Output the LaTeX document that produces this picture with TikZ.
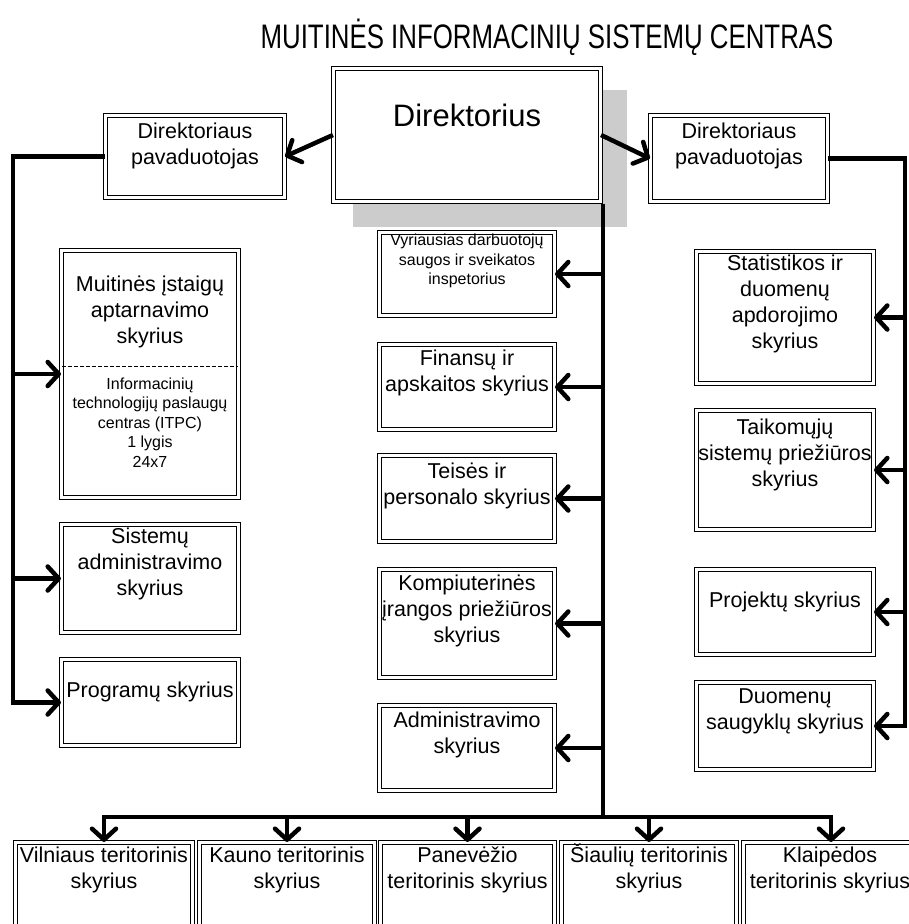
\documentclass[tikz,border=0pt]{standalone}
\usepackage{fontspec}
\setmainfont{Liberation Sans}
\usetikzlibrary{arrows.meta}
\newcommand{\topstrut}{\rule{0pt}{0.96em}}
\newcommand{\botstrut}{\rule[-0.3em]{0pt}{0.3em}}
\tikzset{
  box/.style={draw, double, line width=1.1pt, double distance=2.8pt, fill=white, inner sep=0pt},
  txt/.style={align=center, inner sep=0pt, font=\fontsize{21.5}{26}\selectfont, execute at begin node=\topstrut, execute at end node=\botstrut},
  smalltxt/.style={align=center, inner sep=0pt, font=\fontsize{16}{19.5}\selectfont, execute at begin node=\topstrut, execute at end node=\botstrut},
  conn/.style={line width=4.5pt},
  arr/.style={conn, -{Straight Barb[length=11pt,width=24pt,round]}},
  dsh/.style={dashed, line width=0.9pt, dash pattern=on 4pt off 2pt}
}
\begin{document}
\begin{tikzpicture}[x=1pt,y=-1pt]
\clip (0,0) rectangle (909,924);
\fill[white] (0,0) rectangle (909,924);

% title
\node[inner sep=0pt] (title) at (547,37) {\scalebox{0.76}[1]{\fontsize{34}{40}\selectfont MUITINĖS INFORMACINIŲ SISTEMŲ CENTRAS}};

% shadow of director
\fill[black!20] (353,90) rectangle (627,227);

% director
\node[box, minimum width=267pt, minimum height=133pt] (dir) at (467,135) {};
\node[inner sep=0pt, font=\fontsize{31}{36}\selectfont] (tdir) at (467,115) {Direktorius};

% deputies
\node[box, minimum width=179pt, minimum height=82pt] (ldep) at (195,156.5) {};
\node[txt] (tldep) at (195,146.5) {Direktoriaus\\pavaduotojas};
\node[box, minimum width=177pt, minimum height=86pt] (rdep) at (739,158.5) {};
\node[txt] (trdep) at (739,146.5) {Direktoriaus\\pavaduotojas};

% left column
\node[box, minimum width=177pt, minimum height=247pt] (muit) at (150,374) {};
\node[txt] (tmuit) at (150,312.5) {Muitinės įstaigų\\aptarnavimo\\skyrius};
\draw[dsh] (62,366) -- (238,366);
\node[smalltxt] (titpc) at (150,425) {Informacinių\\technologijų paslaugų\\centras (ITPC)\\1 lygis\\24x7};
\node[box, minimum width=177pt, minimum height=108pt] (sist) at (150,578.5) {};
\node[txt] (tsist) at (150,565) {Sistemų\\administravimo\\skyrius};
\node[box, minimum width=177pt, minimum height=86pt] (prog) at (150,702.5) {};
\node[txt] (tprog) at (150,690) {Programų skyrius};

% middle column
\node[box, minimum width=175pt, minimum height=83pt] (vyr) at (467,274) {};
\node[smalltxt] (tvyr) at (467,262) {Vyriausias darbuotojų\\saugos ir sveikatos\\inspetorius};
\node[box, minimum width=175pt, minimum height=85pt] (fin) at (467,387) {};
\node[txt] (tfin) at (467,373.5) {Finansų ir\\apskaitos skyrius};
\node[box, minimum width=175pt, minimum height=86pt] (teis) at (467,498.5) {};
\node[txt] (tteis) at (467,486.5) {Teisės ir\\personalo skyrius};
\node[box, minimum width=175pt, minimum height=108pt] (komp) at (467,623.5) {};
\node[txt] (tkomp) at (467,612) {Kompiuterinės\\įrangos priežiūros\\skyrius};
\node[box, minimum width=175pt, minimum height=85pt] (adm) at (467,748) {};
\node[txt] (tadm) at (467,735.5) {Administravimo\\skyrius};

% right column
\node[box, minimum width=177pt, minimum height=132pt] (stat) at (785,317.5) {};
\node[txt] (tstat) at (785,305) {Statistikos ir\\duomenų\\apdorojimo\\skyrius};
\node[box, minimum width=177pt, minimum height=119pt] (taik) at (785,470) {};
\node[txt] (ttaik) at (785,456) {Taikomųjų\\sistemų priežiūros\\skyrius};
\node[box, minimum width=177pt, minimum height=85pt] (proj) at (785,612) {};
\node[txt] (tproj) at (785,600) {Projektų skyrius};
\node[box, minimum width=177pt, minimum height=87pt] (duom) at (785,726) {};
\node[txt] (tduom) at (785,712.5) {Duomenų\\saugyklų skyrius};

% bottom row
\node[box, minimum width=177pt, minimum height=155pt] (vil) at (104,920) {};
\node[txt] (tvil) at (104,871) {Vilniaus teritorinis\\skyrius};
\node[box, minimum width=175pt, minimum height=155pt] (kau) at (287,920) {};
\node[txt] (tkau) at (287,871) {Kauno teritorinis\\skyrius};
\node[box, minimum width=174pt, minimum height=155pt] (pan) at (467.5,920) {};
\node[txt] (tpan) at (467.5,871) {Panevėžio\\teritorinis skyrius};
\node[box, minimum width=175pt, minimum height=155pt] (sia) at (649,920) {};
\node[txt] (tsia) at (649,871) {\smash{Š}iaulių teritorinis\\skyrius};
\node[box, minimum width=175pt, minimum height=155pt] (kla) at (831,920) {};
\node[txt] (tkla) at (830,871) {Klaipėdos\\teritorinis skyrius};

% coordinates
\coordinate (lcorner) at (13,156.5);
\coordinate (rcorner) at (905,158.5);
\coordinate (ctop) at (603,204);
\coordinate (cbus) at (603,817);

% connectors from director
\draw[arr] (dir.west) -- (ldep.east);
\draw[arr] (dir.east) -- (rdep.west);

% left branch
\draw[arr] (ldep.west) -- (lcorner) -- (lcorner |- prog.west) -- (prog.west);
\draw[arr] (lcorner |- muit.west) -- (muit.west);
\draw[arr] (lcorner |- sist.west) -- (sist.west);

% right branch
\draw[arr] (rdep.east) -- (rcorner) -- (rcorner |- duom.east) -- (duom.east);
\draw[arr] (rcorner |- stat.east) -- (stat.east);
\draw[arr] (rcorner |- taik.east) -- (taik.east);
\draw[arr] (rcorner |- proj.east) -- (proj.east);

% central trunk
\draw[conn] (ctop) -- (cbus);
\draw[arr] (ctop |- vyr.east) -- (vyr.east);
\draw[arr] (ctop |- fin.east) -- (fin.east);
\draw[arr] (ctop |- teis.east) -- (teis.east);
\draw[arr] (ctop |- komp.east) -- (komp.east);
\draw[arr] (ctop |- adm.east) -- (adm.east);

% bottom bus
\draw[arr] (cbus) -| (vil.north);
\draw[arr] (cbus) -| (kla.north);
\draw[arr] (cbus -| kau.north) -- (kau.north);
\draw[arr] (cbus -| pan.north) -- (pan.north);
\draw[arr] (cbus -| sia.north) -- (sia.north);
\end{tikzpicture}
\end{document}
